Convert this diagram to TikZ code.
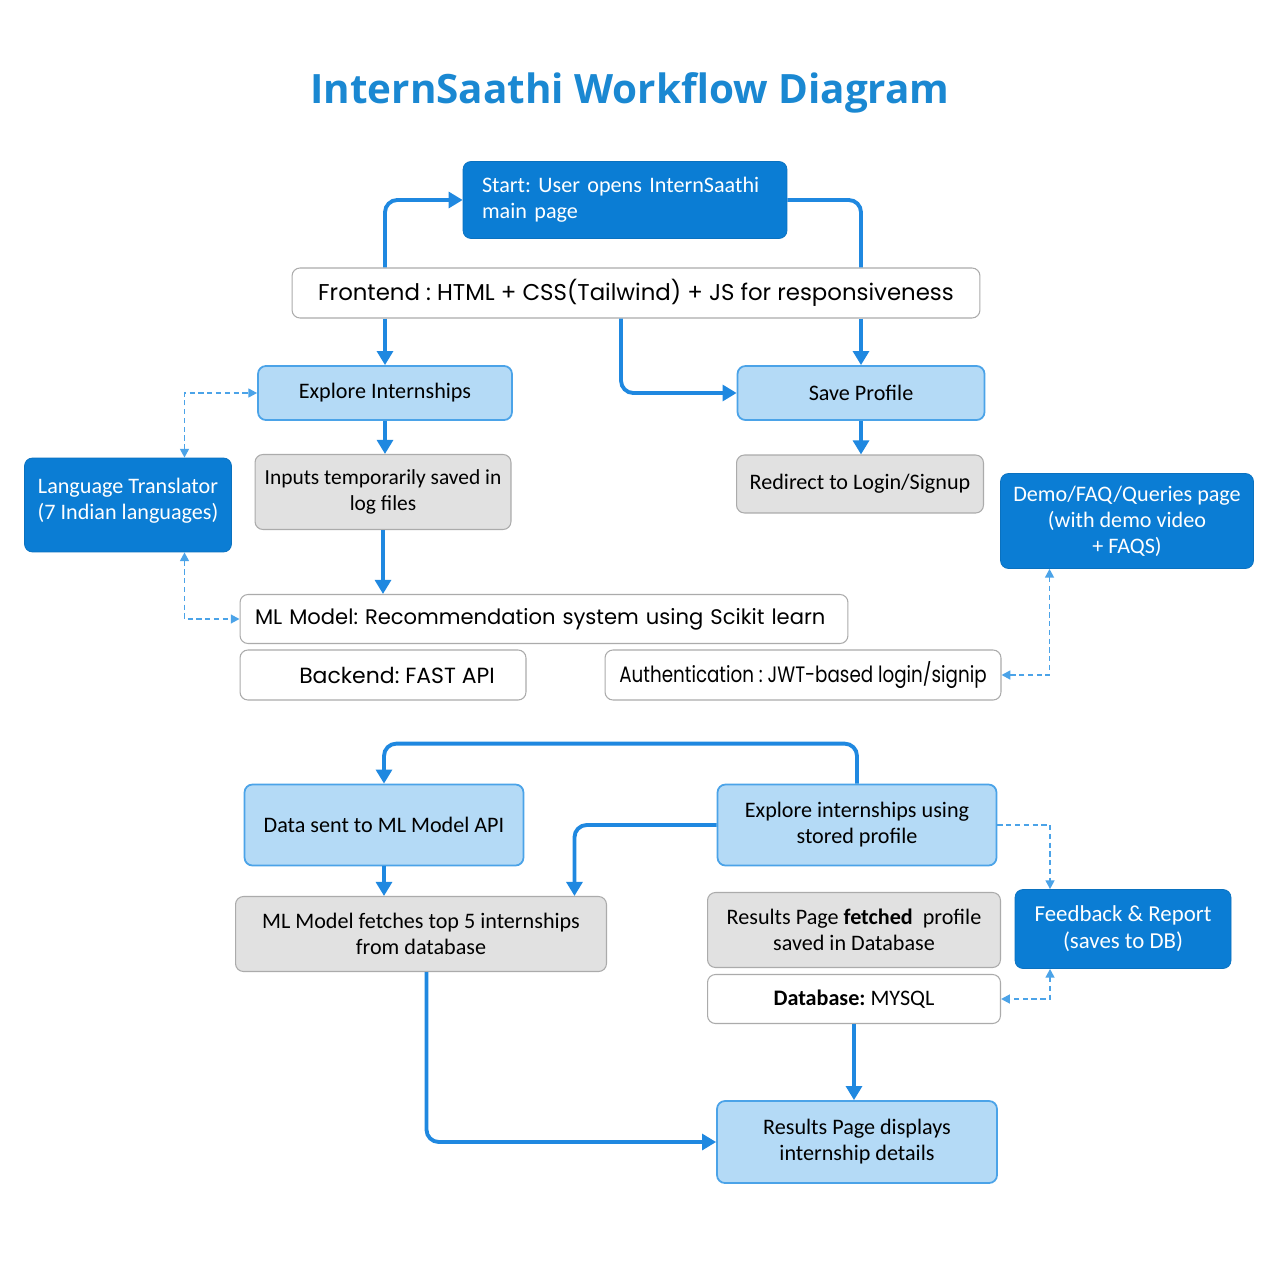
\documentclass[tikz,border=0pt]{standalone}
\usepackage{fontspec}
\setmainfont{Carlito}
\newfontfamily\popfont{Poppins}
\newfontfamily\popnarrow[FakeStretch=0.82]{Poppins}
\newfontfamily\titlefont{Open Sans}
\usetikzlibrary{positioning,arrows.meta}

\definecolor{deepblue}{HTML}{0B7DD4}
\definecolor{paleblue}{HTML}{B4DAF6}
\definecolor{edgeblue}{HTML}{4BA3E8}
\definecolor{flowblue}{HTML}{1F88E0}
\definecolor{softgray}{HTML}{E1E1E1}
\definecolor{rimgray}{HTML}{ABABAB}
\definecolor{titleblue}{HTML}{1A88D2}

\begin{document}
\frenchspacing
\begin{tikzpicture}[
  x=0.02cm, y=-0.02cm,
  box/.style={rounded corners=4.5pt, align=center, inner sep=0pt, font=\fontsize{12.6}{14.8}\selectfont},
  darkbox/.style={box, fill=deepblue, draw=deepblue!90!black, text=white},
  palebox/.style={box, fill=paleblue, draw=edgeblue, line width=1pt},
  greybox/.style={box, fill=softgray, draw=rimgray, line width=0.6pt},
  whitebox/.style={box, fill=white, draw=rimgray, line width=0.6pt},
  flow/.style={draw=flowblue, line width=2.2pt, rounded corners=7pt, -{Triangle[length=8pt,width=9pt]}},
  link/.style={flow, -},
  aux/.style={draw=edgeblue, line width=1.1pt, dash pattern=on 3pt off 2pt,
    {Triangle[length=5pt,width=5pt]}-{Triangle[length=5pt,width=5pt]}}
]
  \fill[white] (0,0) rectangle (1280,1280);
  \useasboundingbox (0,0) rectangle (1280,1280);

  \node[text=titleblue, font=\titlefont\bfseries\fontsize{23}{27}\selectfont] (title) at (630,93) {InternSaathi Workflow Diagram};

  % top part
  \node[darkbox, minimum width=6.48cm, minimum height=1.54cm, text width=5.72cm, align=left] (start) at (625,200) {Start: User opens InternSaathi\\main page};
  \node[whitebox, minimum width=13.76cm, minimum height=1cm, font=\popfont\fontsize{13}{15}\selectfont] (frontend) at (636,293) {Frontend : HTML + CSS(Tailwind) + JS for responsiveness};
  \node[palebox, minimum width=5.08cm, minimum height=1.08cm] (explore) at (385,393) {Explore Internships};
  \node[palebox, minimum width=4.94cm, minimum height=1.08cm] (save) at (861,393) {Save Profile};
  \node[greybox, minimum width=5.12cm, minimum height=1.5cm, font=\fontsize{12.2}{14.8}\selectfont] (inputs) at (383,492) {Inputs temporarily saved in\\log files};
  \node[greybox, minimum width=4.94cm, minimum height=1.16cm] (redirect) at (860,484) {Redirect to Login/Signup};
  \node[darkbox, minimum width=4.14cm, minimum height=1.88cm] (lang) at (128,505) {Language Translator\\(7 Indian languages)\\[-8pt]\mbox{}};
  \node[darkbox, minimum width=5.06cm, minimum height=1.9cm] (demo) at (1127,521) {Demo/FAQ/Queries page\\(with demo video\\+ FAQS)};
  \node[whitebox, minimum width=12.16cm, minimum height=0.98cm, text width=11.56cm, align=left, font=\popfont\fontsize{12}{14}\selectfont] (ml) at (544,619) {ML Model: Recommendation system using Scikit learn};
  \node[whitebox, minimum width=5.72cm, minimum height=1cm, font=\popfont\fontsize{12.5}{14}\selectfont] (backend) at (383,675) {\hspace*{0.56cm}Backend: FAST API};
  \node[whitebox, minimum width=7.92cm, minimum height=1cm, font=\popnarrow\fontsize{12.7}{14}\selectfont] (auth) at (803,675) {Authentication : JWT-based login/signip};

  % bottom part
  \node[palebox, minimum width=5.58cm, minimum height=1.62cm] (datasent) at (384,825) {Data sent to ML Model API};
  \node[palebox, minimum width=5.58cm, minimum height=1.62cm] (stored) at (857,825) {Explore internships using\\stored profile};
  \node[greybox, minimum width=7.42cm, minimum height=1.5cm] (fetch) at (421,934) {ML Model fetches top 5 internships\\from database};
  \node[greybox, minimum width=5.86cm, minimum height=1.5cm] (saved) at (854,930) {Results Page \textbf{fetched}\ \ profile\\saved in Database};
  \node[darkbox, minimum width=4.32cm, minimum height=1.58cm, font=\fontsize{13}{15.5}\selectfont] (feedback) at (1123,929) {Feedback \& Report\\(saves to DB)};
  \node[whitebox, minimum width=5.86cm, minimum height=0.98cm] (database) at (854,999) {\textbf{Database:} MYSQL};
  \node[palebox, minimum width=5.6cm, minimum height=1.64cm] (results) at (857,1142) {Results Page displays\\internship details};

  % main flow
  \draw[flow] (frontend.north -| explore.north) |- (start.west);
  \draw[link] (start.east) -| (frontend.north -| save.north);
  \draw[flow] (frontend.south -| explore.north) -- (explore.north);
  \draw[flow] (frontend.south -| save.north) -- (save.north);
  \draw[flow] ([xshift=-0.3cm]frontend.south) |- (save.west);
  \draw[flow] (explore.south) -- (explore.south |- inputs.north);
  \draw[flow] (save.south) -- (save.south |- redirect.north);
  \draw[flow] (inputs.south) -- (inputs.south |- ml.north);
  \draw[flow] (stored.north) -- ++(0,-40) -| (datasent.north);
  \draw[flow] (stored.west) -| ([xshift=3.07cm]fetch.north);
  \draw[flow] (datasent.south) -- (datasent.south |- fetch.north);
  \draw[flow] ([xshift=0.11cm]fetch.south) |- (results.west);
  \draw[flow] (database.south) -- (database.south |- results.north);

  % side links
  \draw[aux] ([xshift=1.13cm]lang.north) |- (explore.west);
  \draw[aux] ([xshift=1.13cm]lang.south) |- (ml.west);
  \draw[aux] ([xshift=-1.55cm]demo.south) |- (auth.east);
  \draw[aux, -{Triangle[length=5pt,width=5pt]}] (stored.east) -| ([xshift=-1.46cm]feedback.north);
  \draw[aux] ([xshift=-1.46cm]feedback.south) |- (database.east);
\end{tikzpicture}
\end{document}
